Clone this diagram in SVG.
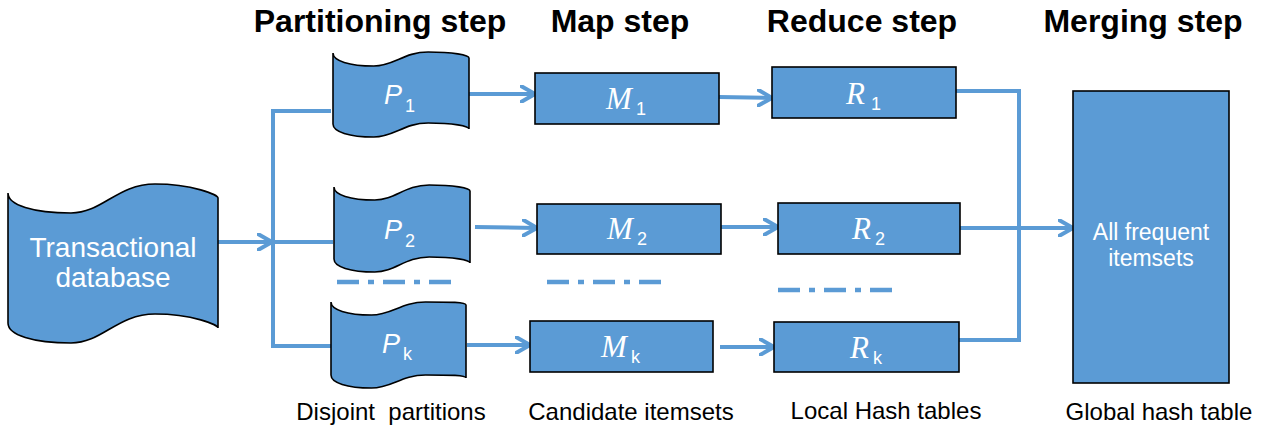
<svg xmlns="http://www.w3.org/2000/svg" width="1268" height="433" viewBox="0 0 1268 433">
<defs>
<style>
.shape{fill:#5B9BD5;stroke:#000;stroke-width:1.6}
.conn{fill:none;stroke:#5B9BD5;stroke-width:4}
.dash{fill:none;stroke:#5B9BD5;stroke-width:4.5;stroke-dasharray:22 9 6 9}
.title{font-family:"Liberation Sans",Arial,sans-serif;font-weight:bold;font-size:32px;fill:#000;text-anchor:middle}
.cap{font-family:"Liberation Sans",Arial,sans-serif;font-size:24px;fill:#000;text-anchor:middle}
.wt{font-family:"Liberation Sans",Arial,sans-serif;fill:#fff;text-anchor:middle}
.pl{font-family:"Liberation Sans",Arial,sans-serif;fill:#fff;font-size:27px}
.ml{font-family:"Liberation Serif","Times New Roman",serif;font-style:italic;fill:#fff;font-size:31px}
.sub{font-family:"Liberation Sans",Arial,sans-serif;font-style:normal;font-size:18px;fill:#fff}
</style>
<marker id="arr" viewBox="0 0 18 18" markerWidth="18" markerHeight="18" refX="15" refY="9" orient="auto" markerUnits="userSpaceOnUse">
<path d="M1,1 L15,9 L1,17" fill="none" stroke="#5B9BD5" stroke-width="4" stroke-linecap="round" stroke-linejoin="round"/>
</marker>
</defs>
<rect width="1268" height="433" fill="#fff"/>

<g id="titles">
<text class="title" x="380" y="32">Partitioning step</text>
<text class="title" x="620" y="32">Map step</text>
<text class="title" x="862" y="32">Reduce step</text>
<text class="title" x="1143" y="32">Merging step</text>
</g>

<g id="connectors">
<line class="conn" x1="218" y1="242" x2="272" y2="242" marker-end="url(#arr)"/>
<polyline class="conn" points="331,111 273,111 273,346 332,346"/>
<line class="conn" x1="273" y1="242" x2="333" y2="242"/>
<line class="conn" x1="469" y1="94" x2="535" y2="94" marker-end="url(#arr)"/>
<line class="conn" x1="719" y1="97" x2="772" y2="98" marker-end="url(#arr)"/>
<line class="conn" x1="475" y1="227" x2="537" y2="228" marker-end="url(#arr)"/>
<line class="conn" x1="721" y1="227" x2="778" y2="227" marker-end="url(#arr)"/>
<line class="conn" x1="467" y1="345" x2="530" y2="345" marker-end="url(#arr)"/>
<line class="conn" x1="720" y1="347" x2="774" y2="347" marker-end="url(#arr)"/>
<polyline class="conn" points="956,91 1019,91 1019,340 959,340"/>
<line class="conn" x1="960" y1="228" x2="1073" y2="228" marker-end="url(#arr)"/>
<line class="dash" x1="337" y1="282" x2="451" y2="282"/>
<line class="dash" x1="547" y1="282" x2="661" y2="282"/>
<line class="dash" x1="778" y1="290" x2="892" y2="290"/>
</g>

<g id="db">
<path class="shape" d="M8,193 C8,205 33,213 71,213 C102.5,213 117,184 155,184 C193,184 218,195 218,198 L218,328 C218,325 193,314 155,314 C117,314 102.5,343 71,343 C33,343 8,335 8,323 Z"/>
<text class="wt" x="113" y="257" font-size="28">Transactional</text>
<text class="wt" x="113" y="287" font-size="28">database</text>
</g>

<g id="p1">
<path class="shape" d="M333,53 C333,60.8 349.3,66 373.8,66 C394.2,66 403.7,52 428.2,52 C452.7,52 469,55 469,58 L469,129 C469,126 452.7,123 428.2,123 C403.7,123 394.2,137 373.8,137 C349.3,137 333,131.8 333,124 Z"/>
<text class="pl" x="384" y="104"><tspan font-style="italic">P</tspan><tspan class="sub" x="405" y="112">1</tspan></text>
</g>
<g id="p2">
<path class="shape" d="M334,187 C334,194.8 350.3,200 374.8,200 C395.2,200 404.7,185 429.2,185 C453.7,185 470,188 470,191 L470,263 C470,260 453.7,257 429.2,257 C404.7,257 395.2,272 374.8,272 C350.3,272 334,266.8 334,259 Z"/>
<text class="pl" x="384" y="239"><tspan font-style="italic">P</tspan><tspan class="sub" x="405" y="247">2</tspan></text>
</g>
<g id="pk">
<path class="shape" d="M331,302 C331,309.8 347.2,315 371.5,315 C391.8,315 401.2,302 425.5,302 C449.8,302 466,302 466,305 L466,378 C466,375 449.8,375 425.5,375 C401.2,375 391.8,388 371.5,388 C347.2,388 331,382.8 331,375 Z"/>
<text class="pl" x="382" y="353"><tspan font-style="italic">P</tspan><tspan class="sub" x="403" y="360">k</tspan></text>
</g>

<g id="m1">
<rect class="shape" x="535" y="73" width="184" height="51"/>
<text class="ml" x="606" y="109">M<tspan class="sub" x="636" y="115">1</tspan></text>
</g>
<g id="m2">
<rect class="shape" x="537" y="204" width="184" height="50"/>
<text class="ml" x="607" y="239">M<tspan class="sub" x="637" y="245">2</tspan></text>
</g>
<g id="mk">
<rect class="shape" x="530" y="321" width="183" height="51"/>
<text class="ml" x="601" y="357">M<tspan class="sub" x="631" y="363">k</tspan></text>
</g>

<g id="r1">
<rect class="shape" x="772" y="67" width="184" height="51"/>
<text class="ml" x="846" y="104">R<tspan class="sub" x="871" y="110">1</tspan></text>
</g>
<g id="r2">
<rect class="shape" x="778" y="203" width="182" height="51"/>
<text class="ml" x="852" y="239">R<tspan class="sub" x="875" y="245">2</tspan></text>
</g>
<g id="rk">
<rect class="shape" x="774" y="322" width="185" height="50"/>
<text class="ml" x="850" y="358">R<tspan class="sub" x="873" y="364">k</tspan></text>
</g>

<g id="merged">
<rect class="shape" x="1073" y="91" width="156" height="292"/>
<text class="wt" x="1151" y="240" font-size="23">All frequent</text>
<text class="wt" x="1151" y="266" font-size="23">itemsets</text>
</g>

<g id="captions">
<text class="cap" x="391" y="420" xml:space="preserve">Disjoint  partitions</text>
<text class="cap" x="631" y="420">Candidate itemsets</text>
<text class="cap" x="886" y="419">Local Hash tables</text>
<text class="cap" x="1159" y="420">Global hash table</text>
</g>
</svg>
